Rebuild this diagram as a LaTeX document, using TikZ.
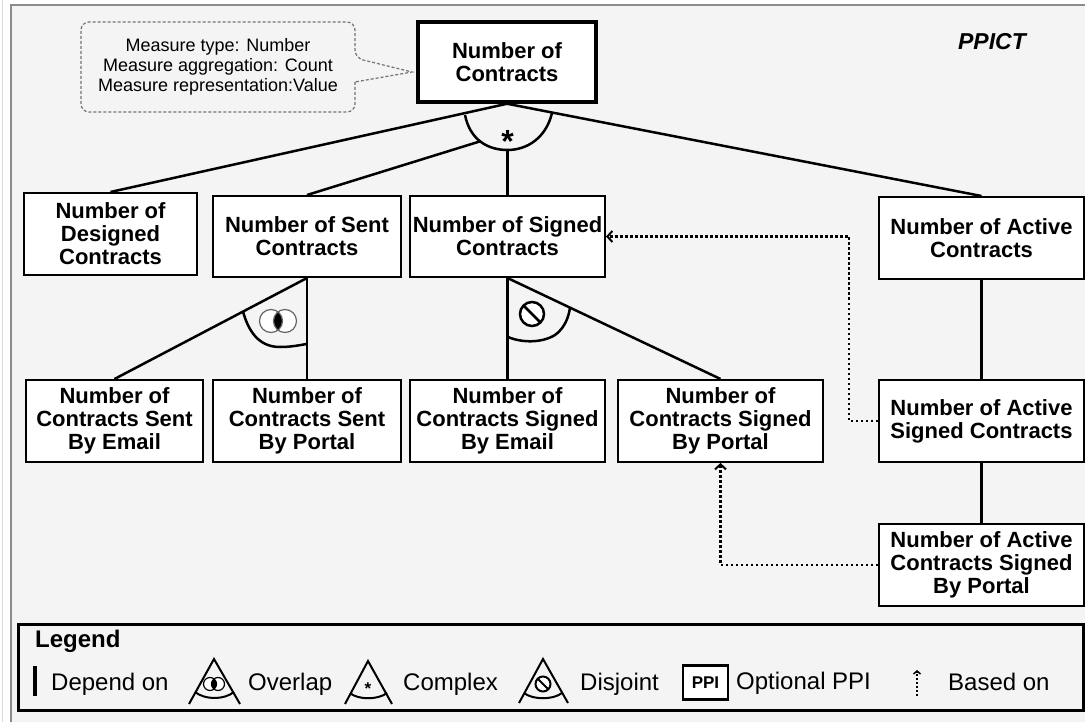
\documentclass[tikz,border=0pt]{standalone}
\usepackage{fontspec}
\setmainfont{Liberation Sans}
\usetikzlibrary{arrows.meta}
\definecolor{bg}{HTML}{F4F4F4}
\tikzset{
  ppibox/.style={draw=black, fill=white, line width=2pt, inner sep=0pt, align=center,
    font=\fontsize{22}{23}\selectfont\bfseries, minimum height=82pt},
  conn/.style={line width=2.5pt},
  basedon/.style={line width=2.5pt, dash pattern=on 2.5pt off 2.5pt,
    -{Straight Barb[length=5pt,width=11pt,line width=2pt]}},
  legtext/.style={anchor=base west, inner sep=0pt, font=\fontsize{24}{24}\selectfont},
  icon/.style={line width=2pt},
}
\begin{document}
\begin{tikzpicture}[x={(1pt,0)}, y={(0,-1pt)}]
\useasboundingbox (0,0) rectangle (1085,722);
\fill[white] (0,0) rectangle (1085,722);
\draw[black!15, line width=1pt] (2.5,0) -- (2.5,722);
\draw[draw=black!45, line width=2pt, fill=bg] (11,5) rectangle (1100,740);

% nodes
\node[ppibox, line width=3.5pt, minimum width=178pt, minimum height=80pt] (root) at (507,62) {Number of\\Contracts};
\node[ppibox, minimum width=173pt] (designed) at (110.5,234) {Number of\\Designed\\Contracts};
\node[ppibox, minimum width=188pt, minimum height=81pt] (sent) at (307,236.5) {Number of Sent\\Contracts};
\node[ppibox, minimum width=195pt, minimum height=81pt] (signed) at (507.5,236.5) {Number of Signed\\Contracts};
\node[ppibox, minimum width=205pt] (active) at (981.5,238) {Number of Active\\Contracts};
\node[ppibox, minimum width=177pt] (sentEmail) at (114.5,421) {Number of\\Contracts Sent\\By Email};
\node[ppibox, minimum width=188pt] (sentPortal) at (307,421) {Number of\\Contracts Sent\\By Portal};
\node[ppibox, minimum width=195pt] (signedEmail) at (507.5,421) {Number of\\Contracts Signed\\By Email};
\node[ppibox, minimum width=205pt] (signedPortal) at (720.5,421) {Number of\\Contracts Signed\\By Portal};
\node[ppibox, minimum width=205pt] (activeSigned) at (981.5,421) {Number of Active\\Signed Contracts};
\node[ppibox, minimum width=205pt] (activePortal) at (981.5,565) {Number of Active\\Contracts Signed\\By Portal};

% callout
\draw[black!55, line width=1.2pt, dash pattern=on 3pt off 2pt]
  (355,82) [rounded corners=8pt] -- (355,112) -- (81,112) -- (81,22) -- (355,22) -- (355,58)
  [sharp corners] -- (412,72) -- cycle;
\node[align=center, inner sep=0pt, font=\fontsize{18}{20}\selectfont] (note) at (218,67)
  {Measure type: Number\\Measure aggregation: Count\\Measure representation:Value};

\node[font=\fontsize{23}{23}\selectfont\bfseries\itshape] (title) at (992,42) {PPICT};

% complex connector
\coordinate (cxL) at (465,115);
\coordinate (cxB) at (507.5,150);
\coordinate (cxR) at (552,113);
\coordinate (cxS) at (507,133);
\draw[conn] (sent.north) -- (cxS);
\fill[bg] (cxL) .. controls (470,140) and (488,150) .. (cxB) .. controls (527,150) and (546,138) .. (cxR) -- cycle;
\draw[conn] (root.south) -- (designed.north);
\draw[conn] (root.south) -- (active.north);
\draw[conn] (cxB) -- (signed.north);
\draw[conn] (cxL) .. controls (470,140) and (488,150) .. (cxB) .. controls (527,150) and (546,138) .. (cxR);
\node[inner sep=0pt, font=\fontsize{32}{32}\selectfont\bfseries] (star) at (507.5,141) {*};

% overlap connector
\draw[conn] (sent.south) -- (sentEmail.north);
\draw[conn] (sent.south) -- (sentPortal.north);
\draw[conn] (243,311.5) .. controls (250,337) and (263,347) .. (280,347) .. controls (292,347) and (300,345) .. (307,344);
\fill[white] (271,321) circle (11.5pt) (285,321) circle (11.5pt);
\begin{scope}
  \clip (271,321) circle (11.5pt);
  \fill[black] (285,321) circle (11.5pt);
\end{scope}
\draw[black!60, line width=1.2pt] (271,321) circle (11.5pt) (285,321) circle (11.5pt);

% disjoint connector
\draw[conn] (signed.south) -- (signedEmail.north);
\draw[conn] (signed.south) -- (signedPortal.north);
\draw[conn] (508,337) .. controls (522,343) and (542,343) .. (555,335) .. controls (565,328) and (569,316) .. (570,307.2);
\draw[fill=white, line width=2.5pt] (532,314) circle (12pt);
\draw[line width=2.5pt] (532,314) ++(-8,-8) -- ++(16,16);

% active chain
\draw[conn] (active.south) -- (activeSigned.north);
\draw[conn] (activeSigned.south) -- (activePortal.north);

% based on
\draw[basedon] (activeSigned.west) -- ++(-29,0) |- (signed.east);
\draw[basedon] (activePortal.west) -| (signedPortal.south);

% legend
\draw[line width=3pt] (18,624) rectangle (1083,710);
\node[legtext, font=\fontsize{24}{24}\selectfont\bfseries] (legend) at (35,647) {Legend};
\draw[line width=3.5pt] (35,666) -- (35,696);
\node[legtext] (dep) at (51,690) {Depend on};

\draw[icon] (189,704) -- (214,659) -- (240,704);
\draw[icon] (195,692) .. controls (205,700) and (224,700) .. (234,692);
\fill[white] (210,684) circle (6.5pt) (218,684) circle (6.5pt);
\begin{scope}
  \clip (210,684) circle (6.5pt);
  \fill[black] (218,684) circle (6.5pt);
\end{scope}
\draw[black, line width=1.2pt] (210,684) circle (6.5pt) (218,684) circle (6.5pt);
\node[legtext] (ov) at (248,690) {Overlap};

\draw[icon] (345,704) -- (368,661) -- (392,704);
\draw[icon] (350,693) .. controls (358,700) and (378,700) .. (387,693);
\node[inner sep=0pt, font=\fontsize{17}{17}\selectfont\bfseries] (lstar) at (368,689) {*};
\node[legtext] (cx) at (403,690) {Complex};

\draw[icon] (519,703) -- (543,659) -- (568,703);
\draw[icon] (524,693) .. controls (533,700) and (553,700) .. (562,693);
\draw[fill=white, line width=2pt] (543,684) circle (7.5pt);
\draw[line width=2pt] (543,684) ++(-5,-5) -- ++(10,10);
\node[legtext] (dj) at (580,690) {Disjoint};

\node[draw, fill=white, line width=2.5pt, minimum width=45pt, minimum height=34pt, inner sep=0pt,
  font=\fontsize{17}{17}\selectfont\bfseries] (ppi) at (705.5,682.5) {PPI};
\node[legtext] (opt) at (736,689) {Optional PPI};
\coordinate (bA) at (917,696);
\coordinate (bB) at (917,670);
\draw[line width=2pt, dash pattern=on 2pt off 2pt, -{Straight Barb[length=3pt,width=7pt,line width=1.5pt]}] (bA) -- (bB);
\node[legtext] (bo) at (948,690) {Based on};
\end{tikzpicture}
\end{document}
